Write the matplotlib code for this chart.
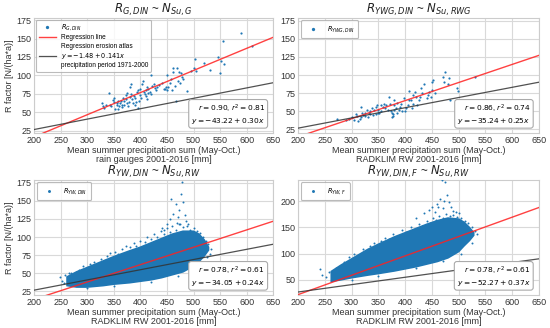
import numpy as np
import matplotlib
matplotlib.use("Agg")
import matplotlib.pyplot as plt

plt.rcParams['font.family'] = ['Liberation Sans', 'DejaVu Sans']
plt.rcParams['mathtext.fontset'] = 'dejavusans'

# ---------------- data ----------------
# panel a: rain gauges
ga_x = [328,330,332,335,340,342,345,348,350,350,352,355,355,357,358,360,362,363,365,366,368,370,370,372,372,374,375,376,378,380,380,382,383,385,386,388,390,390,392,393,395,396,398,400,400,402,403,405,406,408,410,410,412,413,415,415,418,420,420,422,425,428,430,432,435,440,445,447,448,450,450,452,455,458,460,462,462,465,466,468,470,472,475,477,478,480,488,495,500,502,505,520,530,545,550,552,555,558,590,610]
ga_y = [62,58,56,60,76,60,58,67,70,64,55,62,60,65,54,58,62,66,60,57,70,65,60,74,68,76,62,58,64,71,85,88,75,68,62,72,70,60,64,77,80,56,66,82,74,70,88,93,78,75,80,72,68,85,82,76,78,75,100,86,88,83,80,85,87,90,81,82,84,80,100,85,90,95,80,105,110,86,65,110,92,105,90,103,98,95,79,106,110,122,106,117,108,125,103,120,146,115,157,140]

# panel b: RADKLIM at gauge locations
gb_x = [272,290,295,300,305,308,310,312,315,318,318,320,322,325,325,328,330,332,335,335,338,340,342,345,345,348,350,350,352,355,355,358,360,362,365,368,370,372,374,375,376,377,378,379,380,380,382,384,385,388,390,392,395,398,400,402,405,407,408,410,412,414,415,418,420,422,425,428,430,432,435,440,443,445,448,450,450,452,455,470,472,475,480,482,484,496,498,530]
gb_y = [40,38,40,42,38,46,44,36,40,42,56,47,45,48,43,52,42,48,50,46,55,45,52,56,46,58,48,52,47,58,50,56,60,55,58,52,70,60,50,48,42,46,44,52,66,58,55,48,62,52,56,60,50,68,50,55,58,66,78,65,55,72,60,76,70,58,65,70,82,75,88,68,72,76,70,90,80,93,75,98,90,104,88,96,65,82,78,98]

# panel c: RADKLIM grid, DIN (dense cloud envelope + sparse points)
cc_x  = [262,280,300,330,350,380,400,420,440,460,480,500,510,520,528]
cc_lo = [33,31,31,33,35,37,39,41,44,48,52,60,66,74,82]
cc_hi = [45,52,58,67,73,81,86,92,98,104,108,108,104,96,86]
cs_x = [270,285,292,305,312,318,326,338,342,352,358,366,372,380,388,392,400,408,412,420,426,432,438,444,450,455,460,466,472,480,488,494,500,506,512,518,523,528,533,530,
        300,350,420,470,505,525,
        248,252,256,258,265,
        440,450,455,458,462,466,470,472,476,478,480,483,486,490,468,474,445]
cs_y = [50,55,60,63,66,62,70,74,78,80,76,84,88,86,92,88,95,93,100,97,104,100,108,104,112,107,115,110,118,114,115,110,113,109,106,100,94,90,84,76,
        29,33,38,46,57,72,
        45,40,36,47,50,
        112,118,125,152,132,145,128,138,160,176,148,130,122,118,120,118,110]

# panel d: RADKLIM grid, DIN with F
dc_x  = [262,280,300,330,350,380,400,420,440,460,480,500,510,520,528]
dc_lo = [47,50,54,59,62,67,71,75,80,85,92,104,115,125,135]
dc_hi = [66,78,90,108,118,132,140,148,156,163,168,166,160,150,140]
ds_x = [270,285,295,305,312,322,335,342,355,362,370,378,385,395,402,410,418,425,432,440,446,452,458,464,470,476,484,490,497,505,512,518,524,530,534,
        300,350,420,470,505,525,
        240,245,252,258,
        420,435,445,450,455,460,465,468,470,475,478,482,486,490,495,500,462,472]
ds_y = [72,84,94,100,96,108,114,120,124,130,128,138,134,145,142,150,147,156,153,162,158,168,165,172,169,176,172,174,170,168,162,158,150,144,138,
        50,58,72,86,100,120,
        70,60,55,65,
        168,178,184,190,180,195,205,240,188,236,212,198,190,182,180,178,190,200]

# regression coefficients (intercept, slope)
fits = [(-43.22, 0.30), (-35.24, 0.25), (-34.05, 0.24), (-52.27, 0.37)]
stats = [(0.90, 0.81), (0.86, 0.74), (0.78, 0.61), (0.78, 0.61)]
atlas = (-1.48, 0.141)

titles = [r'$R_{G,DIN}$ ~ $N_{Su,G}$', r'$R_{YWG,DIN}$ ~ $N_{Su,RWG}$',
          r'$R_{YW,DIN}$ ~ $N_{Su,RW}$', r'$R_{YW,DIN,F}$ ~ $N_{Su,RW}$']
labels = [r'$R_{G,DIN}$', r'$R_{YWG,DIN}$', r'$R_{YW,DIN}$', r'$R_{YW,F}$']
xlab2 = ['rain gauges 2001-2016 [mm]', 'RADKLIM RW 2001-2016 [mm]',
         'RADKLIM RW 2001-2016 [mm]', 'RADKLIM RW 2001-2016 [mm]']
xticks = [200, 250, 300, 350, 400, 450, 500, 550, 600, 650]
yticks = [[25, 50, 75, 100, 125, 150, 175]] * 3 + [[50, 100, 150, 200]]
ylims = [(22, 178), (20, 179), (20, 179), (21, 241)]

# ---------------- figure ----------------
fig = plt.figure(figsize=(5.5, 3.28), dpi=100)
pos = [(0.062, 0.5945, 0.435, 0.351), (0.542, 0.5945, 0.438, 0.351),
       (0.062, 0.1006, 0.435, 0.351), (0.542, 0.1006, 0.438, 0.351)]
blue = '#1f77b4'
gridc = '#d9d9d9'
xs = np.array([200, 650])

for i in range(4):
    ax = fig.add_axes(pos[i])
    ax.set_facecolor('white')
    ax.grid(True, color=gridc, lw=0.8)
    ax.set_axisbelow(True)
    for s in ax.spines.values():
        s.set_color('#cccccc')
        s.set_linewidth(0.8)

    if i == 0:
        h_sc = ax.scatter(ga_x, ga_y, s=2.5, color=blue, lw=0, label=labels[i], zorder=3)
    elif i == 1:
        h_sc = ax.scatter(gb_x, gb_y, s=2.5, color=blue, lw=0, label=labels[i], zorder=3)
    elif i == 2:
        ax.fill(np.concatenate([cc_x, cc_x[::-1]]), np.concatenate([cc_lo, cc_hi[::-1]]),
                color=blue, lw=1.2, zorder=3)
        h_sc = ax.scatter(cs_x, cs_y, s=2, color=blue, lw=0, label=labels[i], zorder=3)
    else:
        ax.fill(np.concatenate([dc_x, dc_x[::-1]]), np.concatenate([dc_lo, dc_hi[::-1]]),
                color=blue, lw=1.2, zorder=3)
        h_sc = ax.scatter(ds_x, ds_y, s=2, color=blue, lw=0, label=labels[i], zorder=3)

    a, b = fits[i]
    h_red, = ax.plot(xs, a + b * xs, color='#ff2020', alpha=0.85, lw=1.0, zorder=4,
                     label='Regression line')
    h_blk, = ax.plot(xs, atlas[0] + atlas[1] * xs, color='#333333', alpha=0.85, lw=0.9, zorder=4,
                     label='Regression erosion atlas\n$y = -1.48 + 0.141x$\nprecipitation period 1971-2000')

    ax.set_xlim(200, 650)
    ax.set_ylim(*ylims[i])
    ax.set_xticks(xticks)
    ax.set_yticks(yticks[i])
    ax.tick_params(labelsize=6.5, colors='#333333', length=0, pad=2)
    ax.set_title(titles[i], fontsize=8.5, pad=3, color='#222222')
    ax.set_xlabel('Mean summer precipitation sum (May-Oct.)\n' + xlab2[i],
                  fontsize=6.5, color='#333333', labelpad=1, linespacing=1.0)
    if i % 2 == 0:
        ax.set_ylabel('R factor [N/(ha*a)]', fontsize=6.5, color='#333333', labelpad=2)

    r, r2 = stats[i]
    ax.text(0.965, 0.065,
            '$r = %.2f$, $r^2 = %.2f$\n$y = -%.2f + %.2fx$' % (r, r2, -a, b),
            transform=ax.transAxes, ha='right', va='bottom', fontsize=5.4, zorder=6,
            linespacing=1.1,
            bbox=dict(boxstyle='round,pad=0.35', fc='white', ec='#aaaaaa', lw=0.8))

    if i == 0:
        leg = ax.legend(handles=[h_sc, h_red, h_blk], loc='upper left', fontsize=4.7,
                        frameon=True, markerscale=1.5, handlelength=2.6,
                        borderpad=0.4, labelspacing=0.25, fancybox=True,
                        borderaxespad=0.3)
    else:
        leg = ax.legend(handles=[h_sc], loc='upper left', fontsize=4.7, frameon=True,
                        markerscale=1.5, handlelength=2.6, borderpad=0.6, fancybox=True,
                        borderaxespad=0.4)
    leg.get_frame().set_edgecolor('#aaaaaa')
    leg.get_frame().set_linewidth(0.8)
    leg.set_zorder(7)

fig.savefig('out.png', dpi=100)
